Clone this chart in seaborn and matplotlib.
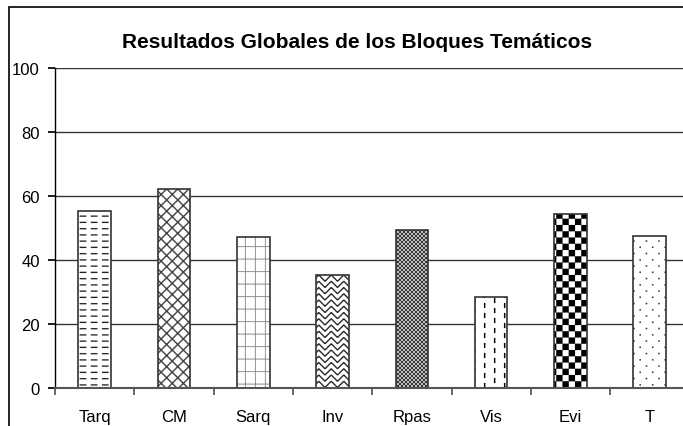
import numpy as np
import matplotlib
matplotlib.use('Agg')
import matplotlib.pyplot as plt
import matplotlib.hatch as mhatch
from matplotlib.colors import to_rgba
from matplotlib.patches import Rectangle
from matplotlib.path import Path
import seaborn as sns

# datos del grafico
bloques = ['Tarq', 'CM', 'Sarq', 'Inv', 'Rpas', 'Vis', 'Evi', 'T']
resultados = [55.2, 62.2, 47.2, 35.3, 49.5, 28.5, 54.4, 47.5]
marcas_y = [0, 20, 40, 60, 80, 100]
titulo = 'Resultados Globales de los Bloques Temáticos'

# trama de cada barra (ver FORMAS) y color de la trama
tramas = ['-', 'x', '+', '/', 'X', '|', '*', '.']
color_trama = ['#222222', '#444444', '#8a8a8a', '#222222', '#333333', 'black', 'black', '#333333']


# --- tramas propias: poligonos rellenos en el cuadrado unidad (1 = 100 px) ---
def caja(x, y, w, h):
    return [(x, y), (x + w, y), (x + w, y + h), (x, y + h), (x, y)]


def banda(x0, y0, x1, y1, t):
    d = np.array([x1 - x0, y1 - y0])
    n = np.array([-d[1], d[0]]) / np.hypot(*d) * t / 2
    p0, p1 = np.array([x0, y0]), np.array([x1, y1])
    return [tuple(p0 + n), tuple(p1 + n), tuple(p1 - n), tuple(p0 - n), tuple(p0 + n)]


def diagonales(n, t):
    out = [banda(-0.1, -0.1 + k / n, 1.1, 1.1 + k / n, t) for k in range(-n - 1, n + 2)]
    out += [banda(-0.1, 0.1 + k / n, 1.1, -1.1 + k / n, t) for k in range(-1, 2 * n + 2)]
    return out


def zigzag(n, t):
    c = 1 / n
    out = []
    for i in range(n):
        for j in range(-1, n + 1):
            y = j * c
            if i % 2 == 0:
                out.append(banda(i * c, y, (i + 1) * c, y + c, t))
            else:
                out.append(banda(i * c, y + c, (i + 1) * c, y, t))
    return out


FORMAS = {
    '-': [caja(i / 9 + 0.02, j / 16 + 0.02, 0.065, 0.012) for i in range(9) for j in range(16)],
    'x': diagonales(9, 0.013),
    '+': [caja(i / 10 + 0.05, -0.01, 0.008, 1.02) for i in range(10)]
         + [caja(-0.01, j / 8 + 0.03, 1.02, 0.008) for j in range(8)],
    '/': zigzag(16, 0.012),
    'X': diagonales(25, 0.009),
    '|': [caja(i / 10 + 0.04, j / 10 + (0.05 if i % 2 else 0) + 0.02, 0.013, 0.05)
          for i in range(10) for j in range(-1, 10)],
    '*': [caja(i / 16, j / 16, 1 / 16, 1 / 16) for i in range(16) for j in range(16) if (i + j) % 2 == 0],
    '.': [caja(i / 8 + (1 / 16 if j % 2 else 0) + 0.02, j / 16 + 0.02, 0.014, 0.014)
          for i in range(8) for j in range(16)],
}


class TramaPropia(mhatch.HatchPatternBase):
    def __init__(self, hatch, density):
        self.formas = [f for c in hatch for f in FORMAS.get(c, [])]
        self.num_vertices = 5 * len(self.formas)

    def set_vertices_and_codes(self, vertices, codes):
        vertices[:] = np.array(self.formas).reshape(-1, 2)
        codes[:] = np.tile([Path.MOVETO, Path.LINETO, Path.LINETO, Path.LINETO, Path.CLOSEPOLY],
                           len(self.formas))


mhatch._hatch_types = [TramaPropia]

sns.set_theme(style='white')
plt.rcParams['font.family'] = ['Liberation Sans', 'DejaVu Sans']
plt.rcParams['text.color'] = 'black'
plt.rcParams['xtick.color'] = 'black'
plt.rcParams['ytick.color'] = 'black'
plt.rcParams['hatch.linewidth'] = 0.1

fig = plt.figure(figsize=(6.83, 4.27), dpi=100)
ax = fig.add_axes([55 / 683, 38 / 427, 634.4 / 683, 320 / 427])

sns.barplot(x=bloques, y=resultados, color='white', saturation=1, width=0.41,
            edgecolor='#333333', linewidth=1.2, errorbar=None, ax=ax)

for bar, h, c in zip(ax.patches, tramas, color_trama):
    bar.set_hatch(h)
    bar._hatch_color = to_rgba(c)

ax.set_xlim(-0.5, 7.5)
ax.set_ylim(0, 100)
ax.set_yticks(marcas_y)
ax.yaxis.grid(True, color='#333333', lw=1)
ax.set_axisbelow(True)
ax.set_xlabel('')
ax.set_ylabel('')

for s in ['top', 'right']:
    ax.spines[s].set_visible(False)
ax.spines['left'].set_color('black')
ax.spines['left'].set_linewidth(1)
ax.spines['bottom'].set_color('#555555')
ax.spines['bottom'].set_linewidth(1.5)

ax.set_xticks(np.arange(-0.5, len(bloques), 1))
ax.set_xticks(range(len(bloques)), labels=bloques, minor=True)
ax.tick_params(axis='x', which='major', bottom=True, length=5, direction='out',
               color='#555555', labelbottom=False)
ax.tick_params(axis='x', which='minor', bottom=True, length=0, pad=15, labelsize=12)
ax.tick_params(axis='y', left=True, length=5, direction='out', pad=6, labelsize=12)

fig.text(357 / 683, 1 - 43 / 427, titulo, ha='center', va='center',
         fontsize=15, fontweight='bold')

fig.add_artist(Rectangle((8.5 / 683, -0.1), 1.2, 1.1 - 7.5 / 427, transform=fig.transFigure,
                         fill=False, ec='black', lw=1.2))

fig.savefig('out.png', dpi=100)
